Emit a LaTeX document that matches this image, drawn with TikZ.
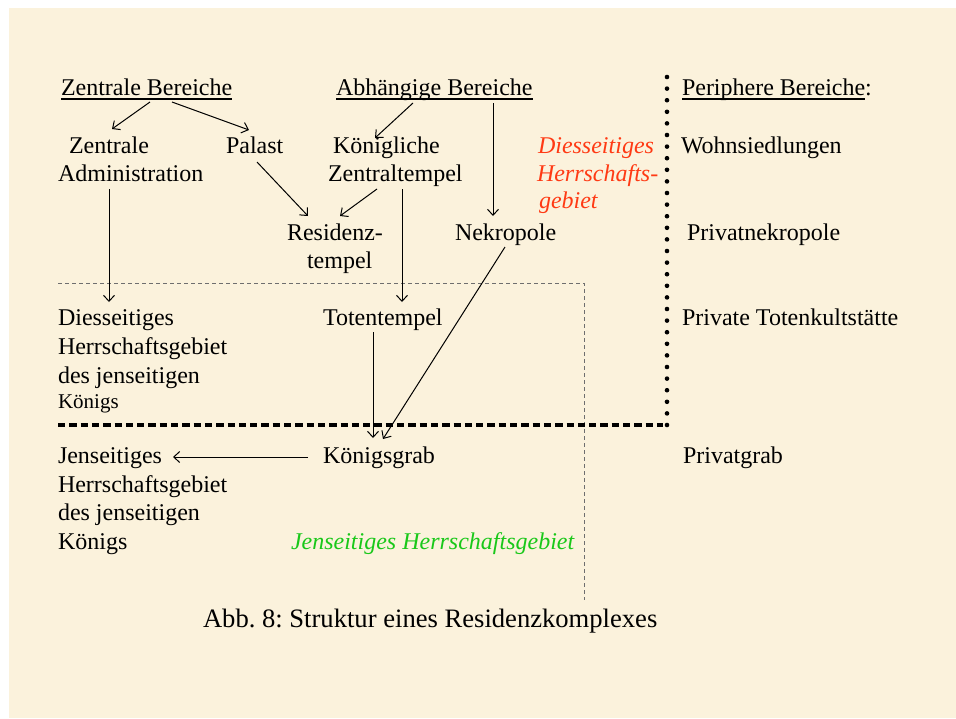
\documentclass[tikz,border=0pt]{standalone}
\usepackage{fontspec}
\setmainfont{Liberation Serif}
\usetikzlibrary{arrows.meta}
\definecolor{parch}{RGB}{251,242,220}
\definecolor{redt}{RGB}{255,58,20}
\definecolor{greent}{RGB}{25,200,25}
\definecolor{thingray}{RGB}{110,110,110}
\frenchspacing
\begin{document}
\begin{tikzpicture}[x=1pt,y=1pt,
  txt/.style={anchor=base west, inner sep=0pt, outer sep=0pt, font=\fontsize{24}{28}\selectfont},
  smalltxt/.style={txt, font=\fontsize{21}{25}\selectfont},
  redit/.style={txt, text=redt, font=\fontsize{24}{28}\selectfont\itshape},
  greenit/.style={txt, text=greent, font=\fontsize{24}{28}\selectfont\itshape},
  captxt/.style={txt, font=\fontsize{26.6}{31}\selectfont},
  arr/.style={-{Straight Barb[length=6pt,width=11pt]}, line width=1pt},
  uline/.style={line width=1.2pt},
  thickdash/.style={line width=3.4pt, dash pattern=on 7.3pt off 4pt},
  dotline/.style={line width=4.6pt, line cap=round, dash pattern=on 0pt off 11.6pt},
  thindash/.style={thingray, line width=0.9pt, dash pattern=on 4pt off 3pt}
]
\useasboundingbox (0,0) rectangle (956,-718);
\fill[parch] (9,-8) rectangle (956,-718);

% headers
\node[txt] (zb) at (61,-95) {Zentrale Bereiche};
\node[txt] (ab) at (336,-95) {Abhängige Bereiche};
\node[txt] (pb) at (682,-95) {Periphere Bereiche};
\node[txt] (pbc) at (pb.base east) {:};
\draw[uline] ([yshift=-4]zb.base west) -- ([yshift=-4]zb.base east);
\draw[uline] ([yshift=-4]ab.base west) -- ([yshift=-4]ab.base east);
\draw[uline] ([yshift=-4]pb.base west) -- ([yshift=-4]pb.base east);

% row 1
\node[txt] (zl) at (69,-153) {Zentrale};
\node[txt] (ad) at (58,-181) {Administration};
\node[txt] (pa) at (226,-153) {Palast};
\node[txt] (kl) at (333,-153) {Königliche};
\node[txt] (zt) at (328,-181) {Zentraltempel};
\node[redit] (rd1) at (538,-153) {Diesseitiges};
\node[redit] (rd2) at (537,-181) {Herrschafts-};
\node[redit] (rd3) at (539,-208) {gebiet};
\node[txt] (ws) at (681,-153) {Wohnsiedlungen};

% row 2
\node[txt] (rz) at (287,-240) {Residenz-};
\node[txt] (rt) at (307,-268) {tempel};
\node[txt] (nk) at (455,-240) {Nekropole};
\node[txt] (pn) at (687,-240) {Privatnekropole};

% row 3
\node[txt] (ds1) at (58,-325) {Diesseitiges};
\node[txt] (ds2) at (58,-354) {Herrschaftsgebiet};
\node[txt] (ds3) at (58,-383) {des jenseitigen};
\node[smalltxt] (ds4) at (58,-408) {Königs};
\node[txt] (tt) at (323,-325) {Totentempel};
\node[txt] (pt) at (682,-325) {Private Totenkultstätte};

% row 4
\node[txt] (js1) at (58,-463) {Jenseitiges};
\node[txt] (js2) at (58,-492) {Herrschaftsgebiet};
\node[txt] (js3) at (58,-520) {des jenseitigen};
\node[txt] (js4) at (58,-549) {Königs};
\node[txt] (kgr) at (323,-463) {Königsgrab};
\node[txt] (pg) at (683,-463) {Privatgrab};
\node[greenit] (jh) at (291,-549) {Jenseitiges Herrschaftsgebiet};

\node[captxt] (cp) at (203,-627) {Abb. 8: Struktur eines Residenzkomplexes};

% boundary lines
\coordinate (tdA) at (58,-283);
\coordinate (tdB) at (584,-283);
\coordinate (tdC) at (584,-600);
\draw[thindash] (tdA) -- (tdB) -- (tdC);
\coordinate (kdA) at (58,-425);
\coordinate (kdB) at (663,-425);
\coordinate (dtA) at (667,-77);
\coordinate (dtB) at (667,-425);
\draw[thickdash] (kdA) -- (kdB);
\draw[dotline] (dtA) -- (dtB);

% arrows
\draw[arr] ([shift={(89,-7)}]zb.base west) -- ([shift={(43,24)}]zl.base west);
\draw[arr] ([shift={(111,-7)}]zb.base west) -- ([shift={(23,23)}]pa.base west);
\draw[arr] ([shift={(77,-8)}]ab.base west) -- ([shift={(42,15)}]kl.base west);
\draw[arr] ([shift={(157,-8)}]ab.base west) -- ([shift={(38,24)}]nk.base west);
\draw[arr] ([shift={(31,-9)}]pa.base west) -- ([shift={(21,24)}]rz.base west);
\draw[arr] ([shift={(49,-8)}]zt.base west) -- ([shift={(53,24)}]rz.base west);
\draw[arr] ([shift={(74,-8)}]zt.base west) -- ([shift={(79,23)}]tt.base west);
\draw[arr] ([shift={(51,-8)}]ad.base west) -- ([shift={(51,23)}]ds1.base west);
\draw[arr] ([shift={(50,-7)}]tt.base west) -- ([shift={(50,25)}]kgr.base west);
\draw[arr] ([shift={(50,-7)}]nk.base west) -- ([shift={(60,24)}]kgr.base west);
\draw[arr] ([shift={(-15,6)}]kgr.base west) -- ([shift={(115,6)}]js1.base west);
\end{tikzpicture}
\end{document}
